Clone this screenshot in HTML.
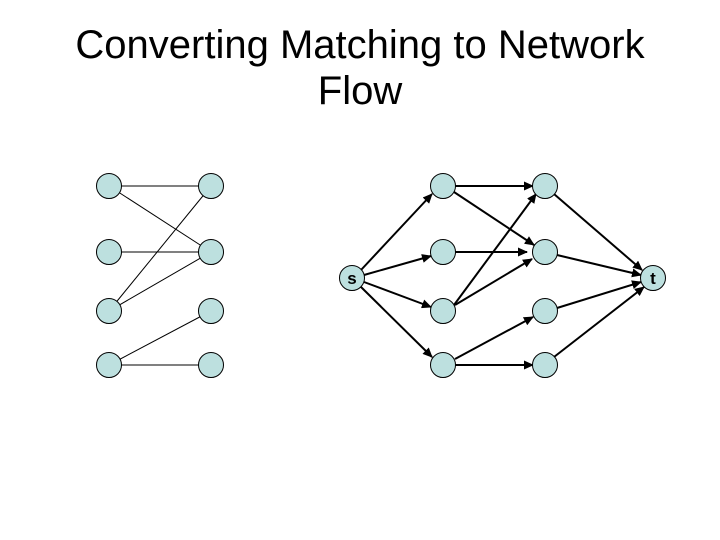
<!DOCTYPE html>
<html><head><style>
body{margin:0;width:720px;height:540px;background:#fff;overflow:hidden;font-family:"Liberation Sans",Arial,sans-serif}
.t{position:absolute;left:0;width:720px;text-align:center;font-size:40px;color:#000;line-height:46px}
</style></head><body>
<div class="t" style="top:22px">Converting Matching to Network</div>
<div class="t" style="top:68px">Flow</div>
<svg width="720" height="540" style="position:absolute;left:0;top:0">
<defs><marker id="a" markerWidth="10" markerHeight="9" refX="9" refY="4.5" orient="auto" markerUnits="userSpaceOnUse"><path d="M0,0 L10,4.5 L0,9 z" fill="#000"/></marker></defs>
<g stroke="#000" stroke-width="1">
<line x1="109" y1="186" x2="211" y2="186"/>
<line x1="109" y1="186" x2="211" y2="252"/>
<line x1="109" y1="252" x2="211" y2="252"/>
<line x1="109" y1="311" x2="211" y2="186"/>
<line x1="109" y1="311" x2="211" y2="252"/>
<line x1="109" y1="365" x2="211" y2="311"/>
<line x1="109" y1="365" x2="211" y2="365"/>
</g>
<g stroke="#000" stroke-width="2" marker-end="url(#a)">
<line x1="361" y1="270" x2="432" y2="194"/>
<line x1="364" y1="275" x2="431" y2="256"/>
<line x1="364" y1="282" x2="431" y2="307"/>
<line x1="361" y1="287" x2="432" y2="357"/>
<line x1="455" y1="186" x2="533" y2="186"/>
<line x1="454" y1="192" x2="534" y2="245"/>
<line x1="455" y1="252" x2="527" y2="252"/>
<line x1="454" y1="305" x2="536" y2="194"/>
<line x1="455" y1="305" x2="532" y2="259"/>
<line x1="455" y1="359" x2="533" y2="317"/>
<line x1="455" y1="365" x2="533" y2="365"/>
<line x1="554" y1="194" x2="642" y2="270"/>
<line x1="557" y1="255" x2="641" y2="275"/>
<line x1="557" y1="308" x2="641" y2="282"/>
<line x1="554" y1="357" x2="644" y2="287"/>
</g>
<g fill="#bde0df" stroke="#000" stroke-width="1">
<circle cx="109" cy="186" r="12.5"/><circle cx="109" cy="252" r="12.5"/><circle cx="109" cy="311" r="12.5"/><circle cx="109" cy="365" r="12.5"/>
<circle cx="211" cy="186" r="12.5"/><circle cx="211" cy="252" r="12.5"/><circle cx="211" cy="311" r="12.5"/><circle cx="211" cy="365" r="12.5"/>
<circle cx="352" cy="278" r="12.5"/><circle cx="653" cy="278" r="12.5"/>
<circle cx="443" cy="186" r="12.5"/><circle cx="443" cy="252" r="12.5"/><circle cx="443" cy="311" r="12.5"/><circle cx="443" cy="365" r="12.5"/>
<circle cx="545" cy="186" r="12.5"/><circle cx="545" cy="252" r="12.5"/><circle cx="545" cy="311" r="12.5"/><circle cx="545" cy="365" r="12.5"/>
</g>
<text x="352" y="284" text-anchor="middle" font-size="17" font-weight="bold" font-family="Liberation Sans,sans-serif">s</text>
<text x="653" y="284" text-anchor="middle" font-size="17" font-weight="bold" font-family="Liberation Sans,sans-serif">t</text>
</svg>
</body></html>
